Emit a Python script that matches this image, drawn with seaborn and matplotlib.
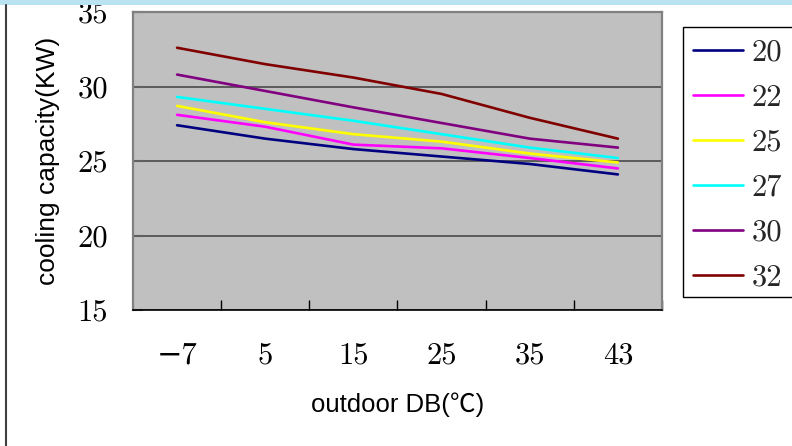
import matplotlib
matplotlib.use("Agg")
import matplotlib.pyplot as plt
from matplotlib.patches import Rectangle
from matplotlib.lines import Line2D
from matplotlib.ticker import FixedLocator
import seaborn as sns
import pandas as pd

# ---- data ----
outdoor = ["\u22127", "5", "15", "25", "35", "43"]
indoor = ["20", "22", "25", "27", "30", "32"]
cap_20 = [27.4, 26.5, 25.8, 25.3, 24.8, 24.1]
cap_22 = [28.1, 27.3, 26.1, 25.85, 25.2, 24.5]
cap_25 = [28.7, 27.6, 26.8, 26.3, 25.5, 24.9]
cap_27 = [29.3, 28.5, 27.7, 26.8, 25.9, 25.2]
cap_30 = [30.8, 29.7, 28.6, 27.55, 26.5, 25.9]
cap_32 = [32.6, 31.5, 30.6, 29.5, 27.9, 26.5]
yticks = [15, 20, 25, 30, 35]

colors = ["#000080", "#ff00ff", "#ffff00", "#00ffff", "#800080", "#800000"]

series = [cap_20, cap_22, cap_25, cap_27, cap_30, cap_32]
rows = []
for name, vals in zip(indoor, series):
    for xi, v in zip(outdoor, vals):
        rows.append({"outdoor": xi, "capacity": v, "indoor": name})
df = pd.DataFrame(rows)

sns.set_theme(style="white")
serif = ["cmr10", "DejaVu Serif"]
sans = ["Liberation Sans", "Noto Sans CJK SC", "DejaVu Sans"]
plt.rcParams["font.family"] = sans
plt.rcParams["axes.unicode_minus"] = False

TICK_FS = 22

W, H = 792, 446
fig = plt.figure(figsize=(W / 100, H / 100), dpi=100)
fig.patch.set_facecolor("white")
ax = fig.add_axes([133 / W, (H - 310) / H, 529 / W, 298 / H])
ax.set_facecolor("#c0c0c0")

sns.lineplot(data=df, x="outdoor", y="capacity", hue="indoor",
             hue_order=indoor, palette=colors, sort=False,
             linewidth=1.9, legend=False, ax=ax)

ax.set_xlim(-0.5, len(outdoor) - 0.5)
ax.set_ylim(15, 35)
ax.set_yticks(yticks)
ax.set_yticklabels([str(t) for t in yticks], fontfamily=serif, fontsize=TICK_FS)
ax.set_xticks(range(len(outdoor)))
ax.set_xticklabels(outdoor, fontfamily=serif, fontsize=TICK_FS)
ax.xaxis.set_minor_locator(FixedLocator([i + 0.5 for i in range(len(outdoor))]))
ax.tick_params(axis="x", which="major", length=0, pad=23, colors="black")
ax.tick_params(axis="x", which="minor", length=7, width=1, direction="in",
               color="black", bottom=True)
ax.tick_params(axis="y", which="major", length=7, width=1.5, direction="in",
               color="#606060", pad=18, labelcolor="black", left=True)

ax.grid(axis="y", color="#404040", linewidth=1.1)
ax.grid(axis="x", visible=False)
ax.set_axisbelow(True)

for side in ["left", "top", "right"]:
    ax.spines[side].set_color("#808080")
    ax.spines[side].set_linewidth(1.6)
ax.spines["bottom"].set_color("black")
ax.spines["bottom"].set_linewidth(1.2)

ax.set_xlabel("outdoor DB(\u2103)", fontsize=18.5, fontfamily=sans, color="black")
ax.set_ylabel("cooling capacity(KW)", fontsize=19, fontfamily=sans, color="black")
ax.xaxis.set_label_coords(0.5, (310 - 405) / 298)
ax.xaxis.label.set_va("center")
ax.yaxis.set_label_coords((48 - 133) / 529, 0.5)
ax.yaxis.label.set_va("center")

# decorations: top band and left rule
fig.patches.append(Rectangle((0, 1 - 5 / H), 1, 5 / H, transform=fig.transFigure,
                             facecolor="#b9e3f0", edgecolor="none", zorder=0))
fig.lines.append(Line2D([6 / W, 6 / W], [0, 1 - 5 / H], transform=fig.transFigure,
                        color="#404040", linewidth=1.5))

# legend box (extends beyond right edge)
fig.patches.append(Rectangle((683 / W, (H - 297) / H), 200 / W, 270 / H,
                             transform=fig.transFigure, facecolor="white",
                             edgecolor="black", linewidth=1.0, zorder=1))
handles = [Line2D([], [], color=c, linewidth=1.9) for c in colors]
leg = fig.legend(handles, indoor, loc="upper left",
                 bbox_to_anchor=(684 / W, 1 - 30 / H), bbox_transform=fig.transFigure,
                 frameon=False, prop={"family": serif, "size": TICK_FS},
                 handlelength=1.63, handletextpad=0.29, labelspacing=0.575,
                 borderpad=0.3, borderaxespad=0)

fig.savefig("out.png", dpi=100)
